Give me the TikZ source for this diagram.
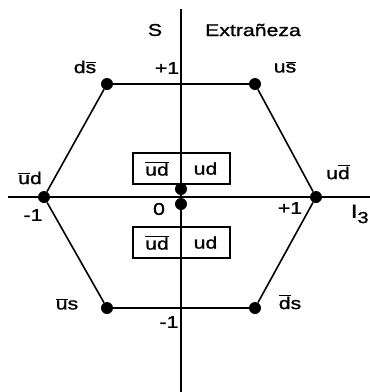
\documentclass[tikz,border=0pt]{standalone}
\usepackage{fontspec}
\setmainfont[FakeStretch=1.25,FakeBold=1.2]{Liberation Sans}
\newcommand\ovl[1]{\ensuremath{\overline{\mbox{#1}}}}
\begin{document}
\begin{tikzpicture}[x=1pt,y=-1pt,
  lbl/.style={inner sep=0pt,font=\fontsize{17}{20}\selectfont},
  meson/.style={circle,fill=black,inner sep=0pt,minimum size=12pt},
  edge/.style={line width=1.6pt},
  axis/.style={line width=1.7pt},
  half/.style={draw,line width=1.4pt,inner sep=0pt,minimum height=31pt,font=\fontsize{17}{20}\selectfont}]
\useasboundingbox (0,0) rectangle (370,392);
% axes
\coordinate (vtop) at (181,9);
\coordinate (vbot) at (181,392);
\coordinate (hl) at (8,197);
\coordinate (hr) at (370,197);
% quark-content boxes at the centre
\node[half,minimum width=48pt] (b1l) at (157,168.5) {\ovl{ud}};
\node[half,minimum width=49pt] (b1r) at (205.5,168.5) {ud};
\node[half,minimum width=48pt] (b2l) at (157,242.5) {\ovl{ud}};
\node[half,minimum width=49pt] (b2r) at (205.5,242.5) {ud};
\draw[axis] (vtop) -- (vbot);
\draw[axis] (hl) -- (hr);
% hexagon of mesons
\node[meson] (ds) at (107,84) {};
\node[meson] (us) at (255,84) {};
\node[meson] (ud) at (316,197) {};
\node[meson] (dsb) at (255,308) {};
\node[meson] (usb) at (107,308) {};
\node[meson] (udb) at (44,197) {};
\node[meson] (c1) at (181,189) {};
\node[meson] (c2) at (181,204) {};
\draw[edge] (ds) -- (us) -- (ud) -- (dsb);
\draw[edge,line width=1.2pt] (dsb) -- (usb);
\draw[edge] (usb) -- (udb) -- (ds);
% labels
\node[lbl] (tS) at (155,30) {S};
\node[lbl] (tE) at (253,30) {Extrañeza};
\node[lbl] (tp1) at (167,68) {+1};
\node[lbl] (lds) at (85,67) {d\ovl{s}};
\node[lbl] (lus) at (285,67) {u\ovl{s}};
\node[lbl] (ludb) at (30,178) {\ovl{u}d};
\node[lbl] (tm1) at (33,215) {-1};
\node[lbl] (t0) at (159,209) {0};
\node[lbl] (tp1r) at (290,208) {+1};
\node[lbl] (lud) at (338,172) {u\ovl{d}};
\node[lbl] (tI) at (360,214) {\fontsize{19}{20}\selectfont I$_{\mbox{\fontsize{16}{16}\selectfont 3}}$};
\node[lbl] (lusb) at (67,304) {\ovl{u}s};
\node[lbl] (ldsb) at (290,302) {\ovl{d}s};
\node[lbl] (tm1b) at (169,322) {-1};
\end{tikzpicture}
\end{document}
